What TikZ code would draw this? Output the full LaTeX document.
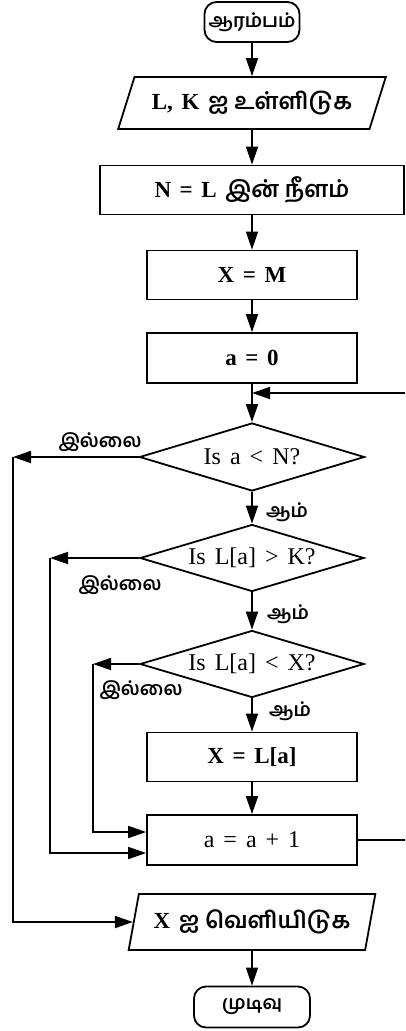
\documentclass[tikz,border=0pt]{standalone}
\usepackage{fontspec}
\setmainfont{Liberation Serif}[WordSpace=1.5]
\newfontfamily\tamil[Script=Tamil]{Hind Madurai}
\usetikzlibrary{shapes.geometric,arrows.meta,calc}
\begin{document}
\begin{tikzpicture}[x=1pt,y=-1pt,
  base/.style={draw, line width=1.8pt, inner sep=0pt, font=\fontsize{23}{26}\selectfont},
  proc/.style={base, rectangle, minimum height=49pt},
  term/.style={base, rectangle, rounded corners=12pt, minimum height=40pt, font=\tamil\bfseries\fontsize{19}{22}\selectfont},
  io/.style={base, trapezium, trapezium stretches=true},
  dec/.style={base, diamond, aspect=3.3, minimum width=224pt, minimum height=67pt, font=\fontsize{24}{26}\selectfont},
  arr/.style={line width=1.8pt, -{Triangle[length=18pt,width=12pt]}},
  lbl/.style={font=\tamil\bfseries\fontsize{19}{21}\selectfont, inner sep=0pt},
]
\clip (0,0) rectangle (405,1031);
\fill[white] (0,0) rectangle (405,1031);

\node[term, minimum width=95pt] (start) at (252,22) {ஆரம்பம்};
\node[io, trapezium left angle=60, trapezium right angle=120, minimum width=268pt, minimum height=52pt] (in) at (252,103) {{\bfseries L, K} {\tamil\bfseries ஐ உள்ளிடுக}};
\node[proc, minimum width=304pt] (N) at (252,190) {{\bfseries N = L} {\tamil\bfseries இன் நீளம்}};
\node[proc, minimum width=210pt] (XM) at (252,275) {\bfseries X = M};
\node[proc, minimum width=210pt, minimum height=50pt] (a0) at (252,358) {\bfseries a = 0};
\coordinate (j) at (252,393);
\node[dec, minimum width=225pt, minimum height=68pt] (d1) at (252,457) {Is a < N?};
\node[dec] (d2) at (252,558) {Is L[a] > K?};
\node[dec] (d3) at (252,664) {Is L[a] < X?};
\node[proc, minimum width=210pt] (XL) at (252,757) {\bfseries X = L[a]};
\node[proc, minimum width=210pt, minimum height=50pt, font=\fontsize{24}{26}\selectfont] (inc) at (252,840) {a = a + 1};
\node[io, trapezium left angle=70, trapezium right angle=110, minimum width=247pt, minimum height=56pt] (out) at (252,922) {{\bfseries X} {\tamil\bfseries ஐ வெளியிடுக}};
\node[term, minimum width=116pt, minimum height=41pt] (end) at (252,1007) {முடிவு};

\coordinate (c1) at (13,457);
\coordinate (c2) at (50,558);
\coordinate (c3) at (93,664);
\coordinate (r) at (425,393);

\draw[arr] (start) -- (in);
\draw[arr] (in) -- (N);
\draw[arr] (N) -- (XM);
\draw[arr] (XM) -- (a0);
\draw[arr] (a0) -- (d1);
\draw[arr] (d1) -- (d2);
\draw[arr] (d2) -- (d3);
\draw[arr] (d3) -- (XL);
\draw[arr] (XL) -- (inc);
\draw[arr] (out) -- (end);

\draw[arr] (d1.west) -- (c1);
\draw[arr] (c1) |- (out.west);
\draw[arr] (d2.west) -- (c2);
\draw[arr] (c2) |- ($(inc.west)+(0,13)$);
\draw[arr] (d3.west) -- (c3);
\draw[arr] (c3) |- ($(inc.west)+(0,-8)$);
\draw[arr] (inc.east) -| (r) -- (j);

\node[lbl] (n1) at (100,442) {இல்லை};
\node[lbl] (y1) at (287,512) {ஆம்};
\node[lbl] (n2) at (120,585) {இல்லை};
\node[lbl] (y2) at (288,614) {ஆம்};
\node[lbl] (n3) at (141,690) {இல்லை};
\node[lbl] (y3) at (290,711) {ஆம்};
\end{tikzpicture}
\end{document}
